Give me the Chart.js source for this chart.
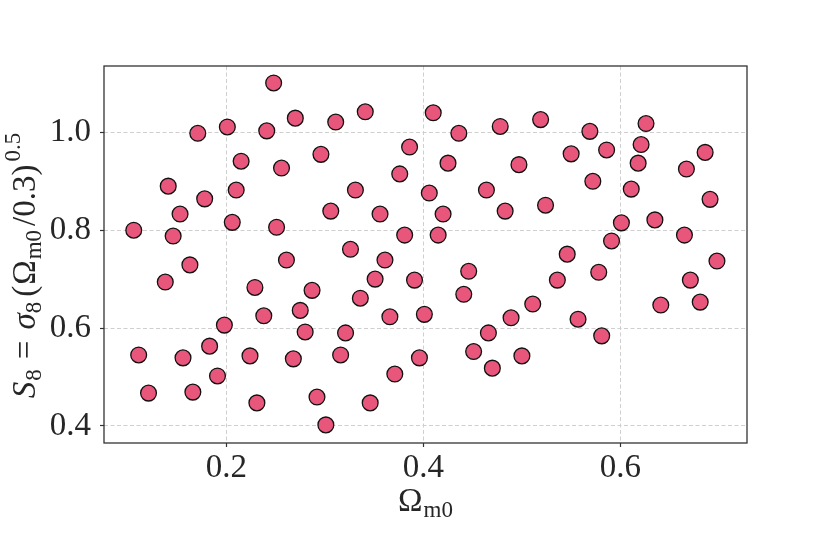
<!DOCTYPE html>
<html>
<head>
<meta charset="utf-8">
<script src="https://cdn.jsdelivr.net/npm/chart.js@4/dist/chart.umd.min.js"></script>
<style>
  body { margin: 0; background: #fff; }
  canvas { display: block; }
</style>
</head>
<body>
<canvas id="s8Chart" width="830" height="554"></canvas>
<script>
// Omega_m0 vs S8 samples
const omegaM = [0.106, 0.111, 0.121, 0.138, 0.141, 0.146, 0.153, 0.156, 0.163, 0.166,
    0.171, 0.178, 0.183, 0.191, 0.198, 0.201, 0.206, 0.210, 0.215, 0.224,
    0.229, 0.231, 0.238, 0.241, 0.248, 0.251, 0.256, 0.261, 0.268, 0.270,
    0.275, 0.280, 0.287, 0.292, 0.296, 0.301, 0.306, 0.311, 0.316, 0.321,
    0.326, 0.331, 0.336, 0.341, 0.346, 0.351, 0.356, 0.361, 0.366, 0.371,
    0.376, 0.381, 0.386, 0.391, 0.396, 0.401, 0.406, 0.410, 0.415, 0.420,
    0.425, 0.436, 0.441, 0.446, 0.451, 0.464, 0.466, 0.470, 0.478, 0.483,
    0.489, 0.497, 0.500, 0.511, 0.519, 0.524, 0.536, 0.546, 0.550, 0.557,
    0.569, 0.572, 0.578, 0.581, 0.586, 0.591, 0.601, 0.611, 0.618, 0.621,
    0.626, 0.635, 0.641, 0.665, 0.667, 0.671, 0.681, 0.686, 0.691, 0.698];
const s8 = [0.800, 0.545, 0.467, 0.694, 0.890, 0.788, 0.833, 0.539, 0.729, 0.469,
    0.998, 0.864, 0.563, 0.502, 0.606, 1.011, 0.816, 0.882, 0.941, 0.543,
    0.683, 0.447, 0.625, 1.003, 1.101, 0.806, 0.927, 0.739, 0.537, 1.029,
    0.636, 0.592, 0.677, 0.459, 0.955, 0.402, 0.839, 1.021, 0.545, 0.590,
    0.761, 0.882, 0.661, 1.042, 0.447, 0.700, 0.833, 0.739, 0.623, 0.506,
    0.915, 0.790, 0.970, 0.698, 0.539, 0.628, 0.876, 1.040, 0.790, 0.833,
    0.937, 0.998, 0.669, 0.716, 0.552, 0.882, 0.590, 0.518, 1.012, 0.839,
    0.621, 0.934, 0.543, 0.649, 1.026, 0.851, 0.698, 0.751, 0.956, 0.618,
    1.002, 0.900, 0.714, 0.584, 0.964, 0.778, 0.815, 0.884, 0.937, 0.975,
    1.018, 0.821, 0.647, 0.790, 0.925, 0.698, 0.653, 0.959, 0.863, 0.737];
const xTicks = [0.2, 0.4, 0.6];
const yTicks = [0.4, 0.6, 0.8, 1.0];

const points = omegaM.map((x, i) => ({ x: x, y: s8[i] }));

const serif = '"Liberation Serif", "DejaVu Serif", serif';
const ink = '#262626';

// draw a run of text pieces (normal / sub / sup) centred on cx, on the baseline
function drawPieces(ctx, pieces, cx) {
    const widths = pieces.map(p => {
        ctx.font = p.font;
        return ctx.measureText(p.t).width + (p.gap || 0);
    });
    const total = widths.reduce((a, b) => a + b, 0);
    let x = cx - total / 2;
    pieces.forEach((p, i) => {
        ctx.font = p.font;
        ctx.fillText(p.t, x, p.dy || 0);
        x += widths[i];
    });
}

const frameAndTitles = {
    id: 'frameAndTitles',
    afterDraw(chart) {
        const { ctx, chartArea: a } = chart;
        ctx.save();
        ctx.strokeStyle = '#333';
        ctx.lineWidth = 1.3;
        ctx.strokeRect(a.left, a.top, a.right - a.left, a.bottom - a.top);

        ctx.fillStyle = ink;
        ctx.textBaseline = 'alphabetic';
        ctx.textAlign = 'left';
        const big = '33px ' + serif;
        const bigIt = 'italic 33px ' + serif;
        const small = '23px ' + serif;

        // x title: Omega_m0
        ctx.save();
        ctx.translate(0, 511);
        drawPieces(ctx, [
            { t: 'Ω', font: big, gap: 1 },
            { t: 'm0', font: small, dy: 6 }
        ], (a.left + a.right) / 2);
        ctx.restore();

        // y title: S8 = sigma8 (Omega_m0 / 0.3)^0.5
        ctx.save();
        ctx.translate(35, (a.top + a.bottom) / 2 + 11);
        ctx.rotate(-Math.PI / 2);
        drawPieces(ctx, [
            { t: 'S', font: bigIt, gap: 1 },
            { t: '8', font: small, dy: 6, gap: 10 },
            { t: '=', font: big, gap: 11 },
            { t: 'σ', font: bigIt, gap: 0 },
            { t: '8', font: small, dy: 6, gap: 5 },
            { t: '(', font: big, gap: 1 },
            { t: 'Ω', font: big, gap: 1 },
            { t: 'm0', font: small, dy: 6, gap: 4 },
            { t: '/0.3)', font: big, gap: 3 },
            { t: '0.5', font: small, dy: -15 }
        ], 0);
        ctx.restore();
        ctx.restore();
    }
};

new Chart(document.getElementById('s8Chart').getContext('2d'), {
    type: 'scatter',
    data: {
        datasets: [{
            data: points,
            backgroundColor: '#e8577b',
            borderColor: '#111',
            borderWidth: 1.3,
            pointRadius: 7.9,
            pointHoverRadius: 7.9
        }]
    },
    options: {
        responsive: false,
        animation: false,
        devicePixelRatio: 1,
        layout: { padding: { left: 0, right: 83, top: 66, bottom: 0 } },
        plugins: { legend: { display: false }, tooltip: { enabled: false } },
        scales: {
            x: {
                type: 'linear',
                min: 0.0758,
                max: 0.7285,
                afterFit: s => { s.height = 111; },
                afterBuildTicks: s => { s.ticks = xTicks.map(v => ({ value: v })); },
                ticks: {
                    font: { family: serif, size: 33 },
                    color: ink,
                    padding: 2,
                    maxRotation: 0,
                    callback: v => v.toFixed(1)
                },
                grid: {
                    color: '#cfcfcf',
                    lineWidth: 1,
                    tickColor: '#333',
                    tickLength: 4,
                    tickWidth: 1.2
                },
                border: { display: false, dash: [4, 2.5] }
            },
            y: {
                type: 'linear',
                min: 0.365,
                max: 1.1356,
                afterFit: s => { s.width = 104; },
                afterBuildTicks: s => { s.ticks = yTicks.map(v => ({ value: v })); },
                ticks: {
                    font: { family: serif, size: 33 },
                    color: ink,
                    padding: 9,
                    callback: v => v.toFixed(1)
                },
                grid: {
                    color: '#cfcfcf',
                    lineWidth: 1,
                    tickColor: '#333',
                    tickLength: 4,
                    tickWidth: 1.2
                },
                border: { display: false, dash: [4, 2.5] }
            }
        }
    },
    plugins: [frameAndTitles]
});
</script>
</body>
</html>
